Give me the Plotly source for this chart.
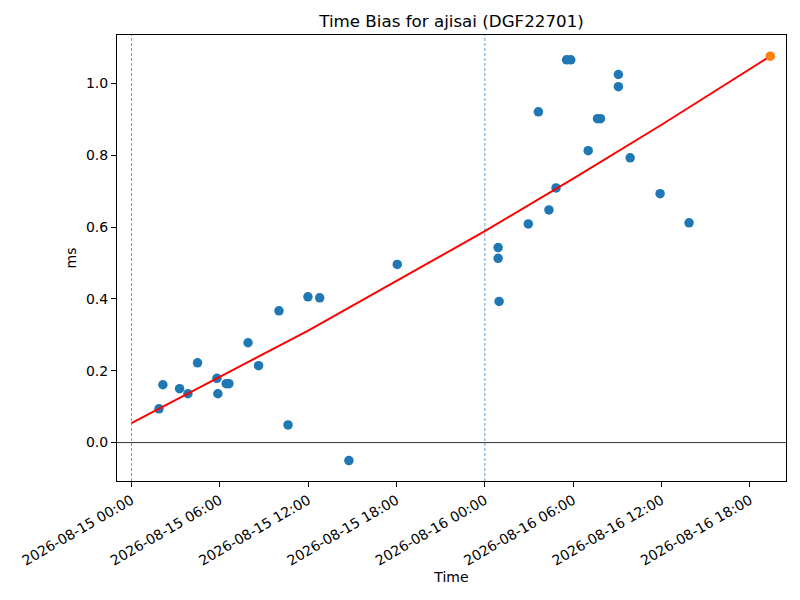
import plotly.graph_objects as go

# Dữ liệu
obs_time = [
    "2026-08-15 01:52", "2026-08-15 02:08", "2026-08-15 03:16", "2026-08-15 03:50",
    "2026-08-15 04:29", "2026-08-15 05:48", "2026-08-15 05:52", "2026-08-15 06:26",
    "2026-08-15 06:37", "2026-08-15 07:55", "2026-08-15 08:38", "2026-08-15 10:01",
    "2026-08-15 10:38", "2026-08-15 11:59", "2026-08-15 12:47", "2026-08-15 14:46",
    "2026-08-15 18:03",
    "2026-08-16 00:54", "2026-08-16 00:54", "2026-08-16 00:58", "2026-08-16 02:57",
    "2026-08-16 03:38", "2026-08-16 04:21", "2026-08-16 04:50", "2026-08-16 05:33",
    "2026-08-16 05:50", "2026-08-16 07:01", "2026-08-16 07:39", "2026-08-16 07:51",
    "2026-08-16 09:04", "2026-08-16 09:04", "2026-08-16 09:52", "2026-08-16 11:54",
    "2026-08-16 13:52",
]
obs_bias = [
    0.094, 0.161, 0.150, 0.136,
    0.222, 0.179, 0.136, 0.164,
    0.164, 0.278, 0.214, 0.367,
    0.049, 0.406, 0.403, -0.050,
    0.496,
    0.543, 0.513, 0.393, 0.609,
    0.921, 0.648, 0.709, 1.066,
    1.066, 0.813, 0.902, 0.902,
    1.025, 0.991, 0.793, 0.693,
    0.612,
]

# Đường xu hướng (màu đỏ)
fit_time = [
    "2026-08-15 00:00", "2026-08-15 06:00", "2026-08-15 12:00", "2026-08-15 18:00",
    "2026-08-16 00:00", "2026-08-16 06:00", "2026-08-16 12:00", "2026-08-16 19:23",
]
fit_bias = [0.054, 0.183, 0.312, 0.450, 0.589, 0.735, 0.885, 1.076]

# Điểm dự đoán (màu cam)
pred_time = ["2026-08-16 19:23"]
pred_bias = [1.076]

# Các mốc ngày (đường đứng nét đứt)
day_marks = ["2026-08-15 00:00", "2026-08-16 00:00"]

x_range = ["2026-08-14 23:01", "2026-08-16 20:27"]
y_range = [-0.107, 1.135]

font = "DejaVu Sans"

fig = go.Figure()

fig.add_trace(go.Scatter(
    x=obs_time, y=obs_bias, mode="markers",
    marker=dict(color="#1f77b4", size=9.5, line=dict(width=0)),
    showlegend=False
))
fig.add_trace(go.Scatter(
    x=fit_time, y=fit_bias, mode="lines",
    line=dict(color="red", width=2),
    showlegend=False
))
fig.add_trace(go.Scatter(
    x=pred_time, y=pred_bias, mode="markers",
    marker=dict(color="#ff7f0e", size=9.5, line=dict(width=0)),
    showlegend=False
))

for d in day_marks:
    fig.add_vline(x=d, line=dict(color="#1f77b4", width=0.7, dash="3px,2px"), layer="below")
fig.add_hline(y=0, line=dict(color="black", width=0.8), layer="below")

# trang HTML có lề 8px, nên bù vào lề của hình
fig.update_layout(
    width=800, height=600,
    paper_bgcolor="white", plot_bgcolor="white",
    margin=dict(l=109, r=22, t=27, b=127),
    font=dict(family=font, size=14, color="black"),
    title=dict(text="Time Bias for ajisai (DGF22701)", x=(109 + 778) / 2 / 800, xanchor="center",
               y=1 - 13 / 600, yanchor="middle", font=dict(size=16.7, family=font)),
)
fig.update_xaxes(
    type="date", range=x_range, dtick=6 * 3600 * 1000, tick0="2026-08-15 00:00",
    tickformat="%Y-%m-%d %H:%M", tickangle=-30, automargin=False,
    showgrid=False, zeroline=False,
    showline=True, linecolor="black", linewidth=1, mirror=True,
    ticks="outside", ticklen=5, tickcolor="black",
    title=dict(text="Time", standoff=4, font=dict(size=14)),
)
fig.update_yaxes(
    range=y_range, dtick=0.2, tick0=0, tickformat=".1f", automargin=False,
    showgrid=False, zeroline=False,
    showline=True, linecolor="black", linewidth=1, mirror=True,
    ticks="outside", ticklen=5, tickcolor="black",
    title=dict(text="ms", standoff=6, font=dict(size=14)),
)

fig.write_html("out.html")
